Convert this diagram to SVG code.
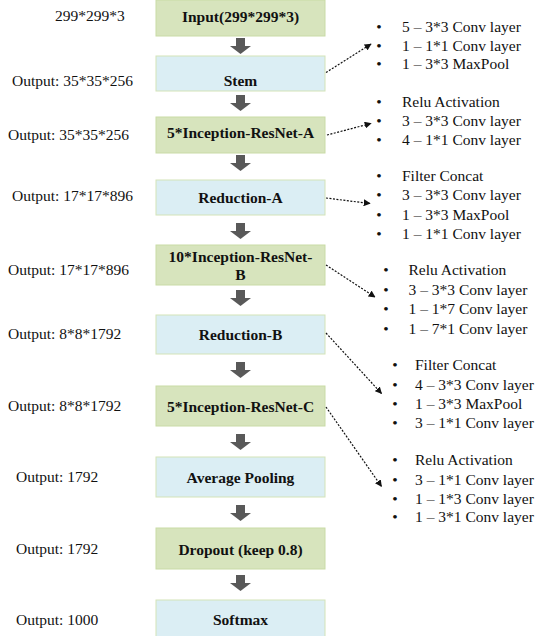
<svg xmlns="http://www.w3.org/2000/svg" width="537" height="636" viewBox="0 0 537 636" font-family="'Liberation Serif', 'DejaVu Serif', serif">
<style>
.bg{fill:#ffffff}
.g{fill:#d7e4bd;stroke:#c9dba6;stroke-width:1}
.b{fill:#dbeef4;stroke:#d3e3b8;stroke-width:1}
.bt{font-size:15.5px;font-weight:bold;fill:#111;text-anchor:middle}
.lt{font-size:15.5px;fill:#111}
.blk{fill:#595959}
.dl{fill:none;stroke:#111;stroke-width:1.2;stroke-dasharray:2 1.5}
</style>
<defs>
<path id="barrow" d="M-4.5,0 H4.5 V8 H10.5 L0,16 L-10.5,8 H-4.5 Z"/>
<marker id="ah" viewBox="0 0 10 10" refX="9" refY="5" markerWidth="7" markerHeight="7" markerUnits="userSpaceOnUse" orient="auto">
<path d="M0,0 L10,5 L0,10 z" fill="#111"/>
</marker>
</defs>
<rect class="bg" x="0" y="0" width="537" height="636"/>

<g id="labels-left" font-family="Liberation Serif, serif">
<text class="lt" x="55" y="21">299*299*3</text>
<text class="lt" x="12" y="86">Output: 35*35*256</text>
<text class="lt" x="8" y="140">Output: 35*35*256</text>
<text class="lt" x="12" y="201">Output: 17*17*896</text>
<text class="lt" x="8" y="275">Output: 17*17*896</text>
<text class="lt" x="8" y="339">Output: 8*8*1792</text>
<text class="lt" x="8" y="411">Output: 8*8*1792</text>
<text class="lt" x="16" y="482">Output: 1792</text>
<text class="lt" x="16" y="554">Output: 1792</text>
<text class="lt" x="16" y="625">Output: 1000</text>
</g>

<g id="input"><rect class="g" x="156" y="0" width="169" height="36"/><text class="bt" x="240.5" y="22">Input(299*299*3)</text></g>
<g id="stem"><rect class="b" x="156" y="56" width="169" height="35"/><text class="bt" x="240.5" y="86">Stem</text></g>
<g id="incA"><rect class="g" x="156" y="117" width="169" height="36"/><text class="bt" x="240.5" y="138">5*Inception-ResNet-A</text></g>
<g id="redA"><rect class="b" x="156" y="180" width="169" height="35"/><text class="bt" x="240.5" y="203">Reduction-A</text></g>
<g id="incB"><rect class="g" x="156" y="245" width="169" height="40"/><text class="bt" x="240.5" y="262">10*Inception-ResNet-</text><text class="bt" x="240.5" y="280">B</text></g>
<g id="redB"><rect class="b" x="156" y="315" width="169" height="39"/><text class="bt" x="240.5" y="340">Reduction-B</text></g>
<g id="incC"><rect class="g" x="156" y="386" width="169" height="40"/><text class="bt" x="240.5" y="412">5*Inception-ResNet-C</text></g>
<g id="avg"><rect class="b" x="156" y="457" width="169" height="40"/><text class="bt" x="240.5" y="483">Average Pooling</text></g>
<g id="drop"><rect class="g" x="156" y="528" width="169" height="41"/><text class="bt" x="240.5" y="555">Dropout (keep 0.8)</text></g>
<g id="soft"><rect class="b" x="156" y="600" width="169" height="40"/><text class="bt" x="240.5" y="625">Softmax</text></g>

<g id="connectors">
<use href="#barrow" class="blk" x="240.5" y="38"/>
<use href="#barrow" class="blk" x="240.5" y="95"/>
<use href="#barrow" class="blk" x="240.5" y="155"/>
<use href="#barrow" class="blk" x="240.5" y="223"/>
<use href="#barrow" class="blk" x="240.5" y="290"/>
<use href="#barrow" class="blk" x="240.5" y="362"/>
<use href="#barrow" class="blk" x="240.5" y="434"/>
<use href="#barrow" class="blk" x="240.5" y="505"/>
<use href="#barrow" class="blk" x="240.5" y="575"/>
<line class="dl" x1="326" y1="72.5" x2="371" y2="44" marker-end="url(#ah)"/>
<line class="dl" x1="327" y1="135" x2="371" y2="123.5" marker-end="url(#ah)"/>
<line class="dl" x1="326" y1="198" x2="370" y2="203.5" marker-end="url(#ah)"/>
<line class="dl" x1="326" y1="265" x2="375" y2="297" marker-end="url(#ah)"/>
<line class="dl" x1="326" y1="333" x2="381.5" y2="393.5" marker-end="url(#ah)"/>
<line class="dl" x1="326" y1="407" x2="381.5" y2="486.5" marker-end="url(#ah)"/>
</g>

<g id="list-stem" class="lt">
<text x="379" y="32" text-anchor="middle">•</text><text x="402" y="32">5 – 3*3 Conv layer</text>
<text x="379" y="50.5" text-anchor="middle">•</text><text x="402" y="50.5">1 – 1*1 Conv layer</text>
<text x="379" y="69" text-anchor="middle">•</text><text x="402" y="69">1 – 3*3 MaxPool</text>
</g>
<g id="list-a" class="lt">
<text x="379" y="107" text-anchor="middle">•</text><text x="402" y="107">Relu Activation</text>
<text x="379" y="126" text-anchor="middle">•</text><text x="402" y="126">3 – 3*3 Conv layer</text>
<text x="379" y="145" text-anchor="middle">•</text><text x="402" y="145">4 – 1*1 Conv layer</text>
</g>
<g id="list-reda" class="lt">
<text x="379" y="180.5" text-anchor="middle">•</text><text x="402" y="180.5">Filter Concat</text>
<text x="379" y="200" text-anchor="middle">•</text><text x="402" y="200">3 – 3*3 Conv layer</text>
<text x="379" y="219.5" text-anchor="middle">•</text><text x="402" y="219.5">1 – 3*3 MaxPool</text>
<text x="379" y="239" text-anchor="middle">•</text><text x="402" y="239">1 – 1*1 Conv layer</text>
</g>
<g id="list-b" class="lt">
<text x="386" y="275" text-anchor="middle">•</text><text x="408.5" y="275">Relu Activation</text>
<text x="386" y="295" text-anchor="middle">•</text><text x="408.5" y="295">3 – 3*3 Conv layer</text>
<text x="386" y="314" text-anchor="middle">•</text><text x="408.5" y="314">1 – 1*7 Conv layer</text>
<text x="386" y="333.5" text-anchor="middle">•</text><text x="408.5" y="333.5">1 – 7*1 Conv layer</text>
</g>
<g id="list-redb" class="lt">
<text x="395" y="370" text-anchor="middle">•</text><text x="415" y="370">Filter Concat</text>
<text x="395" y="390" text-anchor="middle">•</text><text x="415" y="390">4 – 3*3 Conv layer</text>
<text x="395" y="408.5" text-anchor="middle">•</text><text x="415" y="408.5">1 – 3*3 MaxPool</text>
<text x="395" y="428" text-anchor="middle">•</text><text x="415" y="428">3 – 1*1 Conv layer</text>
</g>
<g id="list-c" class="lt">
<text x="395" y="465" text-anchor="middle">•</text><text x="415" y="465">Relu Activation</text>
<text x="395" y="485" text-anchor="middle">•</text><text x="415" y="485">3 – 1*1 Conv layer</text>
<text x="395" y="503.5" text-anchor="middle">•</text><text x="415" y="503.5">1 – 1*3 Conv layer</text>
<text x="395" y="522" text-anchor="middle">•</text><text x="415" y="522">1 – 3*1 Conv layer</text>
</g>
</svg>
